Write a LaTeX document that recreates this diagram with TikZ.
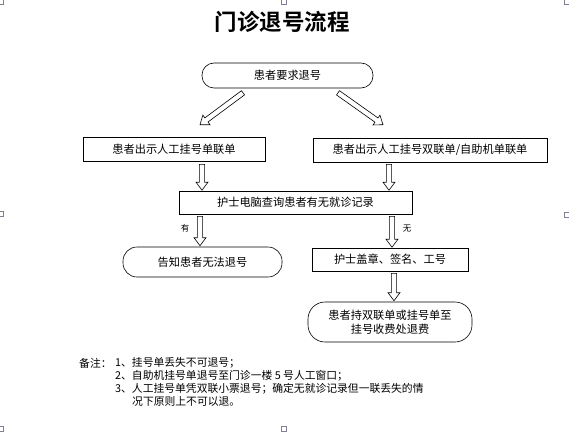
\documentclass[tikz,border=0pt]{standalone}
\usepackage{fontspec}
\newfontfamily\cjk{Noto Sans CJK SC}
\newfontfamily\cjkb{Noto Sans CJK SC Bold}
\usetikzlibrary{calc}
\definecolor{markgray}{RGB}{128,128,150}
\tikzset{
  boxst/.style={draw=black, line width=0.6pt, fill=white, inner sep=0pt, font=\cjk\fontsize{11.2}{13}\selectfont},
  stadium/.style={boxst, rounded corners=12pt},
  harrowst/.style={draw=black, line width=0.6pt, fill=white, line join=miter},
  notest/.style={anchor=west, inner sep=0pt, font=\cjk\fontsize{10.8}{12}\selectfont},
  pmark/.style={draw=markgray, line width=0.6pt}
}
\newcommand\harrow[2]{%
  \coordinate (hA) at (#1); \coordinate (hB) at (#2);
  \coordinate (hH) at ($(hB)!8pt!(hA)$);
  \draw[harrowst] ($(hA)!2.6pt!90:(hB)$) -- ($(hH)!2.6pt!90:(hB)$) -- ($(hH)!6pt!90:(hB)$) -- (hB)
    -- ($(hH)!6pt!-90:(hB)$) -- ($(hH)!2.6pt!-90:(hB)$) -- ($(hA)!2.6pt!-90:(hB)$) -- cycle;}
\begin{document}
\begin{tikzpicture}[x=1pt,y=-1pt]
\useasboundingbox (0,0) rectangle (569,433);
\begin{scope}
\clip (0,0) rectangle (569,433);
\draw[pmark] (0,4) -- (3,4) -- (3,0);
\draw[pmark] (569,4) -- (564,4) -- (564,0);
\draw[pmark] (281,-1) rectangle (286,4);
\draw[pmark] (-1,211) rectangle (3,216);
\draw[pmark] (564,212) rectangle (570,217);
\draw[pmark] (-1,426) rectangle (3,431);
\draw[pmark] (281,426) rectangle (286,431);
\end{scope}

\node[font=\cjkb\fontsize{22.5}{25}\selectfont, inner sep=0pt] (title) at (282,22) {门诊退号流程};

\node[stadium, minimum width=171pt, minimum height=25pt] (req) at (287.5,75.5) {患者要求退号};
\node[boxst, minimum width=182pt, minimum height=24pt] (single) at (174,149) {患者出示人工挂号单联单};
\node[boxst, minimum width=234pt, minimum height=24pt] (double) at (430,150) {患者出示人工挂号双联单/自助机单联单};
\node[boxst, minimum width=233pt, minimum height=23pt] (query) at (295.5,202.5) {护士电脑查询患者有无就诊记录};
\node[stadium, rounded corners=14pt, minimum width=159pt, minimum height=30pt] (deny) at (202.5,262) {告知患者无法退号};
\node[boxst, minimum width=156pt, minimum height=23pt] (stamp) at (390,259.5) {护士盖章、签名、工号};
\node[stadium, rounded corners=17pt, minimum width=164pt, minimum height=40pt, align=center, font=\cjk\fontsize{11.2}{14}\selectfont] (refund) at (390,322) {患者持双联单或挂号单至\\挂号收费处退费};

\node[inner sep=0pt, font=\cjk\fontsize{8.5}{10}\selectfont] (yes) at (185,228) {有};
\node[inner sep=0pt, font=\cjk\fontsize{8.5}{10}\selectfont] (no) at (407,229) {无};

\coordinate (a1s) at ($(req.south)+(-44.5,4.5)$);
\coordinate (a1e) at ($(single.north)+(26,-12)$);
\coordinate (a2s) at ($(req.south)+(50.5,4.5)$);
\coordinate (a2e) at ($(double.north)+(-47,-13)$);
\coordinate (a3s) at ($(single.south)+(28,3)$);
\coordinate (a3e) at ($(query.north)+(-93.5,-0.5)$);
\coordinate (a4s) at ($(double.south)+(-41,2)$);
\coordinate (a4e) at ($(query.north)+(93.5,-0.5)$);
\coordinate (a5s) at ($(query.south)+(-95.5,2)$);
\coordinate (a5e) at ($(deny.north)+(-2.5,-1)$);
\coordinate (a6s) at ($(query.south)+(96.5,2)$);
\coordinate (a6e) at ($(stamp.north)+(2,-0.5)$);
\coordinate (a7s) at ($(stamp.south)+(4,2)$);
\coordinate (a7e) at ($(refund.north)+(4,-1)$);
\harrow{a1s}{a1e}
\harrow{a2s}{a2e}
\harrow{a3s}{a3e}
\harrow{a4s}{a4e}
\harrow{a5s}{a5e}
\harrow{a6s}{a6e}
\harrow{a7s}{a7e}

\node[notest] (n0) at (79,363) {备注：};
\node[notest] (n1) at (115,363) {1、挂号单丢失不可退号；};
\node[notest] (n2) at (115,376) {2、自助机挂号单退号至门诊一楼 5 号人工窗口；};
\node[notest] (n3) at (115,389) {3、人工挂号单凭双联小票退号；确定无就诊记录但一联丢失的情};
\node[notest] (n4) at (132,401) {况下原则上不可以退。};
\end{tikzpicture}
\end{document}
